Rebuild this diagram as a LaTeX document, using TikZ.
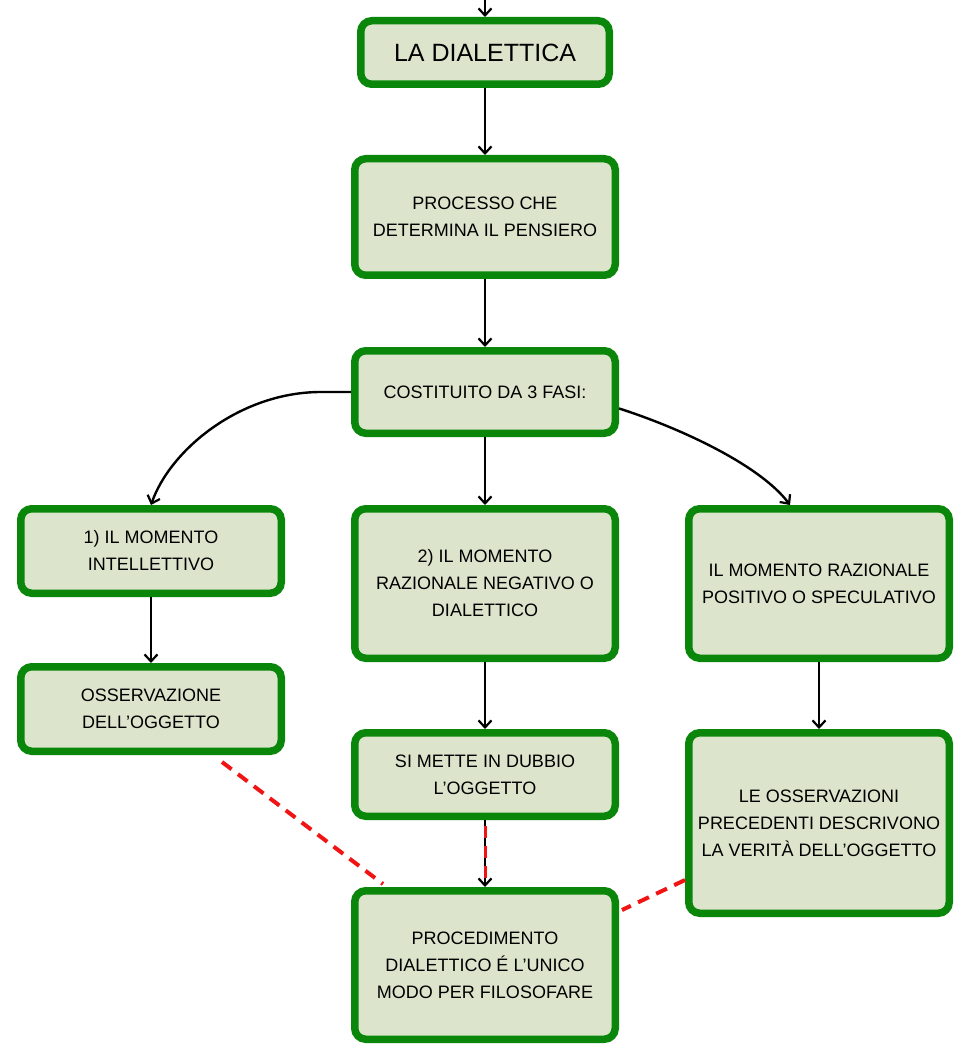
\documentclass[tikz,border=0pt]{standalone}
\usepackage{fontspec}
\setmainfont{Liberation Sans}
\usetikzlibrary{arrows.meta,calc}
\definecolor{boxgreen}{RGB}{10,135,10}
\definecolor{boxfill}{RGB}{220,229,204}
\definecolor{dashred}{RGB}{240,20,20}
\begin{document}
\begin{tikzpicture}[x=1pt,y=-1pt,
  box/.style={draw=boxgreen, fill=boxfill, line width=7.5pt, rounded corners=11pt,
    minimum width=260.5pt, align=center, inner sep=0pt,
    font=\fontsize{18}{27}\selectfont},
  conn/.style={line width=2.4pt, -{Straight Barb[length=7pt,width=13pt,line width=2.2pt]}},
  reddash/.style={draw=dashred, line width=4pt, dash pattern=on 12pt off 8pt}]
\useasboundingbox (0,0) rectangle (972,1064);
\node[box, minimum width=248.5pt, minimum height=63.5pt, font=\fontsize{25}{30}\selectfont] (b1) at (485,52.5) {LA DIALETTICA};
\node[box, minimum height=116.5pt] (b2) at (485,217) {PROCESSO CHE\\DETERMINA IL PENSIERO};
\node[box, minimum height=82.5pt] (b3) at (485,392) {COSTITUITO DA 3 FASI:};
\node[box, minimum height=84.5pt] (l1) at (151,551) {1) IL MOMENTO\\INTELLETTIVO};
\node[box, minimum height=149.5pt] (m1) at (485,583.5) {2) IL MOMENTO\\RAZIONALE NEGATIVO O\\DIALETTICO};
\node[box, minimum height=149.5pt] (r1) at (819,583.5) {IL MOMENTO RAZIONALE\\POSITIVO O SPECULATIVO};
\node[box, minimum height=84.5pt] (l2) at (151,709) {OSSERVAZIONE\\DELL’OGGETTO};
\node[box, minimum height=83.5pt] (m2) at (485,774.5) {SI METTE IN DUBBIO\\L’OGGETTO};
\node[box, minimum height=180.5pt] (r2) at (819,823) {LE OSSERVAZIONI\\PRECEDENTI DESCRIVONO\\LA VERITÀ DELL’OGGETTO};
\node[box, minimum height=148.5pt] (m3) at (485,965) {PROCEDIMENTO\\DIALETTICO É L’UNICO\\MODO PER FILOSOFARE};
\coordinate (top) at (485,-2);
\draw[conn] (top) -- (b1);
\draw[conn] (b1) -- (b2);
\draw[conn] (b2) -- (b3);
\draw[conn] (b3) -- (m1);
\draw[conn] (l1) -- (l2);
\draw[conn] (r1) -- (r2);
\draw[conn] (m1) -- (m2);
\draw[conn] (m2) -- (m3);
\draw[reddash, line width=3pt] ($(m2.south)+(0,6)$) -- ($(m3.north)+(0,-4)$);
\draw[conn] (b3.west) -- ++(-30,0) .. controls (240,392) and (170,450) .. (l1.north);
\draw[conn] (b3.-7.6) .. controls (680,428) and (760,465) .. ($(r1.north)+(-29,0)$);
\draw[reddash] ($(l2.south)+(71,7)$) -- ($(m3.north)+(-102,-3)$);
\draw[reddash] ($(r2.west)+(0,57)$) -- ($(m3.east)+(3,-55)$);
\end{tikzpicture}
\end{document}
